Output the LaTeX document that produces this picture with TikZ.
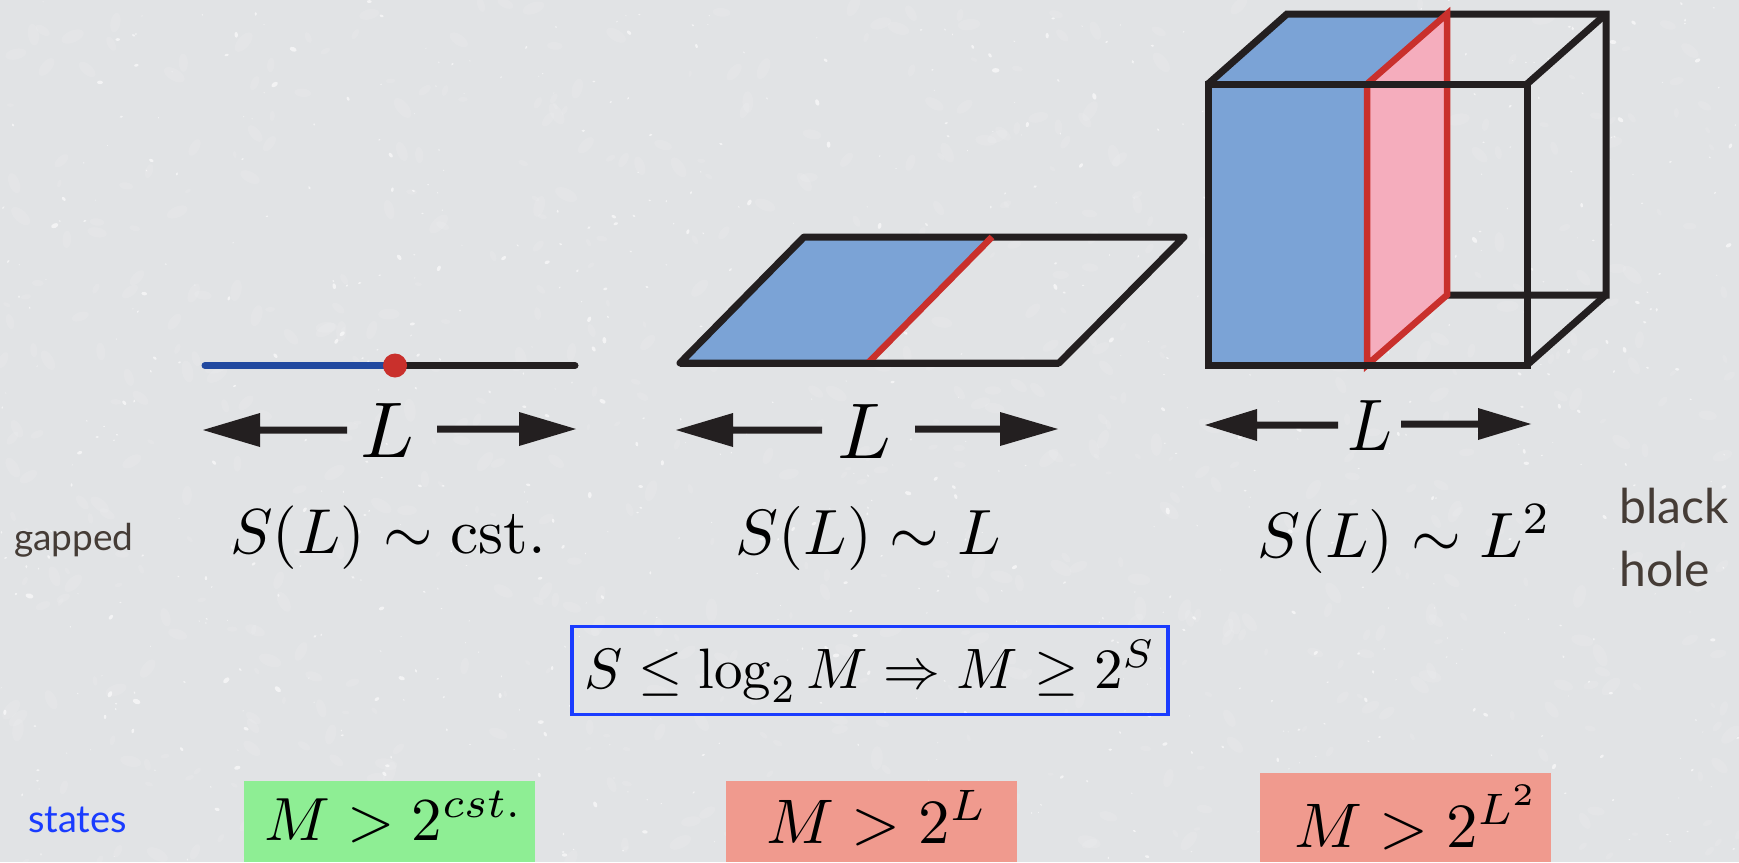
\documentclass[tikz,border=0pt]{standalone}
\usepackage{fontspec}
\newfontfamily\gill{Lato}
\definecolor{bgc}{HTML}{E1E3E5}
\definecolor{ink}{HTML}{231F20}
\definecolor{bluef}{HTML}{7BA3D6}
\definecolor{pinkf}{HTML}{F5ADBD}
\definecolor{redl}{HTML}{C9302C}
\definecolor{bluel}{HTML}{2149A0}
\definecolor{boxb}{HTML}{1A3CFF}
\definecolor{greenf}{HTML}{8EEE94}
\definecolor{salmon}{HTML}{F09A8E}
\definecolor{brownt}{HTML}{453C36}
\tikzset{
 blk/.style={draw=ink,line width=7pt,line join=miter},
 redline/.style={draw=redl,line width=6.5pt,line join=miter},
 mth/.style={inner sep=0pt,anchor=base,text=black},
 sidelabel/.style={inner sep=0pt,anchor=base west,text=brownt},
 patch/.style={draw=none,inner sep=0pt,anchor=north west},
}
\begin{document}
\begin{tikzpicture}[x=1pt,y=-1pt]
\fill[bgc] (0,0) rectangle (1739,862);
\useasboundingbox (0,0) rectangle (1739,862);
% fine grain and speckles of the paper
\pgfmathsetseed{42}
\foreach \i in {1,...,700}{
  \pgfmathsetmacro{\sx}{rnd*1739}
  \pgfmathsetmacro{\sy}{rnd*862}
  \pgfmathsetmacro{\sr}{3+rnd*9}
  \pgfmathsetmacro{\sa}{rnd*180}
  \fill[white,opacity=.1,rotate around={\sa:(\sx,\sy)}] (\sx,\sy) ellipse[x radius=\sr,y radius=\sr*.5];
}
\foreach \i in {1,...,800}{
  \pgfmathsetmacro{\sx}{rnd*1739}
  \pgfmathsetmacro{\sy}{rnd*862}
  \pgfmathsetmacro{\sr}{0.7+rnd*rnd*3.5}
  \pgfmathsetmacro{\sa}{rnd*180}
  \fill[white,opacity=.6,rotate around={\sa:(\sx,\sy)}] (\sx,\sy) ellipse[x radius=\sr,y radius=\sr*.6];
}
% line
\coordinate (la) at (205,365.5); \coordinate (lm) at (395,365.5); \coordinate (lb) at (575,365.5);
\draw[draw=ink,line width=7pt,line cap=round] (lm) -- (lb);
\draw[draw=bluel,line width=7pt,line cap=round] (la) -- (lm);
\fill[redl] (lm) circle[radius=12];
% arrows line
\fill[ink] (203,430) -- (260,413) -- (260,426.5) -- (347,426.5) -- (347,433.5) -- (260,433.5) -- (260,447) -- cycle;
\fill[ink] (576,429) -- (519,412) -- (519,425.5) -- (437,425.5) -- (437,432.5) -- (519,432.5) -- (519,446) -- cycle;
\node[mth,scale=7.9] (L1) at (387,457) {$L$};
% plane
\coordinate (pa) at (680,363); \coordinate (pb) at (804,237); \coordinate (pc) at (1184,237); \coordinate (pd) at (1059,363);
\coordinate (pe) at (868,363); \coordinate (pf) at (992,237);
\fill[bluef] (pa) -- (pb) -- (pf) -- (pe) -- cycle;
\draw[blk,line join=round] (pa) -- (pb) -- (pc) -- (pd) -- cycle;
\draw[redline] (pe) -- (pf);
\draw[blk] (pa) -- (pd);
\fill[ink] (676,430) -- (733,413) -- (733,426.5) -- (822,426.5) -- (822,433.5) -- (733,433.5) -- (733,447) -- cycle;
\fill[ink] (1058,429) -- (1000,412) -- (1000,425.5) -- (915,425.5) -- (915,432.5) -- (1000,432.5) -- (1000,446) -- cycle;
\node[mth,scale=7.9] (L2) at (864,458) {$L$};
% cube
\coordinate (fa) at (1208,84); \coordinate (fb) at (1527,84); \coordinate (fc) at (1527,365); \coordinate (fd) at (1208,365);
\coordinate (ba) at (1287,14); \coordinate (bb) at (1606,14); \coordinate (bc) at (1606,295); \coordinate (bd) at (1447,295);
\coordinate (sa) at (1367,84); \coordinate (sb) at (1447,14); \coordinate (sc) at (1447,295); \coordinate (sd) at (1367,365);
\fill[bluef] (fa) -- (ba) -- (sb) -- (sa) -- (sd) -- (fd) -- cycle;
\fill[pinkf] (sa) -- (sb) -- (sc) -- (sd) -- cycle;
\draw[blk] (fb) -- (bb) (fc) -- (bc);
\draw[blk] (fa) -- (ba) -- (bb) -- (bc) -- (bd);
\draw[redline] (sa) -- (sb) -- (sc) -- (sd) -- cycle;
\draw[blk] (fa) -- (fb) -- (fc) -- (fd) -- cycle;
\fill[ink] (1205,425) -- (1257,409) -- (1257,421.5) -- (1338,421.5) -- (1338,428.5) -- (1257,428.5) -- (1257,441) -- cycle;
\fill[ink] (1531,424) -- (1478,408) -- (1478,420.5) -- (1401,420.5) -- (1401,427.5) -- (1478,427.5) -- (1478,440) -- cycle;
\node[mth,xscale=6.6,yscale=7.3] (L3) at (1370,450) {$L$};
% formulas
\node[mth,scale=6.35] (s1) at (388,553) {$S(L)\sim\mathrm{cst.}$};
\node[mth,scale=6.4] (s2) at (868.5,554) {$S(L)\sim L$};
\node[mth,scale=6.4] (s3) at (1404.5,557) {$S(L)\sim L^2$};
\node[sidelabel] (gap) at (14,550) {\gill\fontsize{37}{37}\selectfont gapped};
\node[sidelabel] (bh1) at (1619,523) {\gill\fontsize{48}{48}\selectfont black};
\node[sidelabel] (bh2) at (1619,586) {\gill\fontsize{48}{48}\selectfont hole};
% central box
\node[draw=boxb,line width=3.5pt,minimum width=596pt,minimum height=88pt,inner sep=0pt] (bx) at (870,670.5) {};
\node[mth,scale=5.7] (eq) at (870,688) {$S\leq\log_2 M\Rightarrow M\geq 2^S$};
% bottom
\node[sidelabel,text=boxb] (st) at (28,832) {\gill\fontsize{38}{38}\selectfont states};
\node[patch,fill=greenf,minimum width=291pt,minimum height=81pt] (g1) at (244,781) {};
\node[patch,fill=salmon,minimum width=291pt,minimum height=81pt] (g2) at (726,781) {};
\node[patch,fill=salmon,minimum width=291pt,minimum height=89pt] (g3) at (1260,773) {};
\node[mth,scale=6.1] (m1) at (394,840) {$M>2^{cst.}$};
\node[mth,scale=6.3] (m2) at (877,843) {$M>2^{L}$};
\node[mth,scale=6.3] (m3) at (1417,847) {$M>2^{L^2}$};
\end{tikzpicture}
\end{document}
